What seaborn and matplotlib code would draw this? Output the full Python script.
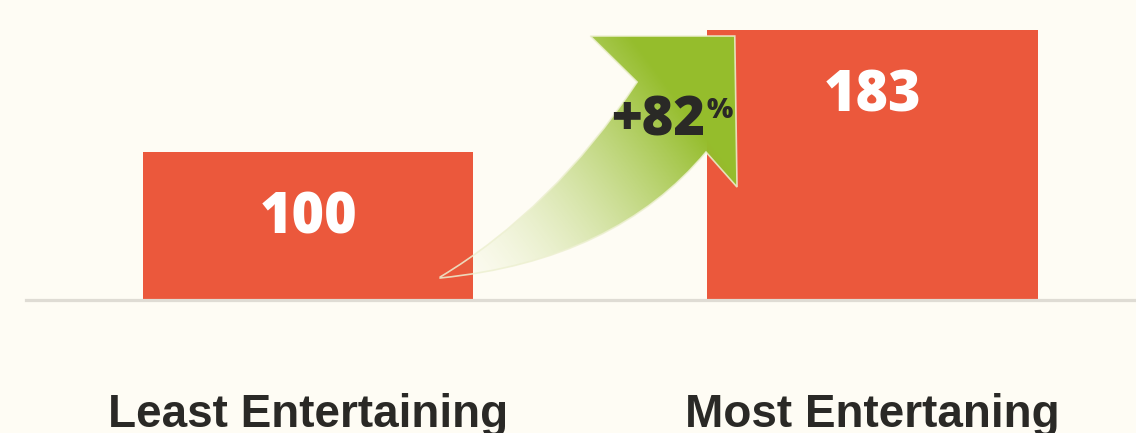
import numpy as np
import matplotlib
matplotlib.use("Agg")
import matplotlib.pyplot as plt
from matplotlib.path import Path
from matplotlib.patches import PathPatch
from matplotlib.transforms import blended_transform_factory
import seaborn as sns

# Index values for the two groups
categories = ["Least Entertaining", "Most Entertaning"]
values = [100, 183]
growth_label = "+82"
growth_unit = "%"

BG = "#FEFCF4"
BAR = "#EB583C"
GREEN = (0.588, 0.745, 0.176)
INK = "#2A2926"
RULE = "#DFDCD4"
NUM_FONT = ["Open Sans", "DejaVu Sans"]
LABEL_FONT = ["Liberation Sans", "DejaVu Sans"]

sns.set_theme(style="white")
plt.rcParams["font.family"] = NUM_FONT

fig = plt.figure(figsize=(11.36, 4.33), dpi=100, facecolor=BG)
ax = fig.add_axes([26 / 1136, 134.5 / 433, 1110 / 1136, 298.5 / 433])
ax.set_facecolor(BG)

sns.barplot(x=categories, y=values, order=categories, color=BAR,
            saturation=1, width=0.585, linewidth=0, ax=ax)
ax.set_xlim(-0.5, 1.467)
ax.set_ylim(0, 203.8)

# Value labels inside the bars
for i, v in enumerate(values):
    ax.text(i, v - 55.5, f"{v}", ha="center", va="baseline", color="white",
            fontsize=40, fontweight=800, family=NUM_FONT, zorder=5)

# Curved growth arrow from the first bar to the second
M, C3, L, CL = Path.MOVETO, Path.CURVE3, Path.LINETO, Path.CLOSEPOLY
verts = [(0.234, 14.7), (0.432, 60.4), (0.583, 147.8), (0.500, 179.2),
         (0.756, 179.2), (0.760, 76.1), (0.705, 100.0), (0.545, 26.0),
         (0.234, 14.0), (0.234, 14.7)]
codes = [M, C3, C3, L, L, L, L, C3, C3, CL]
arrow_path = Path(verts, codes)
patch = PathPatch(arrow_path, facecolor="none", edgecolor="none", zorder=3)
ax.add_patch(patch)

x0, x1, y0, y1 = 0.22, 0.77, 10, 182
nx, ny = 300, 300
gx, gy = np.meshgrid(np.linspace(x0, x1, nx), np.linspace(y0, y1, ny))
pts = ax.transData.transform(np.column_stack([gx.ravel(), gy.ravel()]))
start = ax.transData.transform((0.234, 14.5))
end = ax.transData.transform((0.655, 135.0))
d = end - start
proj = ((pts - start) @ d) / (d @ d)
alpha = np.clip(proj, 0, 1).reshape(ny, nx) ** 1.6
img = np.zeros((ny, nx, 4))
img[..., 0], img[..., 1], img[..., 2] = GREEN
img[..., 3] = alpha
im = ax.imshow(img, extent=[x0, x1, y0, y1], origin="lower", aspect="auto",
               interpolation="bilinear", zorder=3)
im.set_clip_path(patch)
ax.add_patch(PathPatch(arrow_path, facecolor="none",
                       edgecolor=(0.93, 0.94, 0.82, 0.85), lw=1.2, zorder=3.5))
ax.set_xlim(-0.5, 1.467)
ax.set_ylim(0, 203.8)

ax.text(0.703, 111.6, growth_label, ha="right", va="baseline", color=INK,
        fontsize=39, fontweight=800, family=NUM_FONT, zorder=5)
ax.text(0.706, 123.2, growth_unit, ha="left", va="baseline", color=INK,
        fontsize=20, fontweight=800, family=NUM_FONT, zorder=5)

# Category labels under the baseline
ax.set_xticks([0, 1], labels=["", ""])
ax.tick_params(axis="x", length=0)
label_tf = blended_transform_factory(ax.transData, fig.transFigure)
for i, name in enumerate(categories):
    ax.text(i, 6 / 433, name, transform=label_tf, ha="center", va="baseline",
            fontsize=33, fontweight="bold", family=LABEL_FONT, color=INK,
            clip_on=False)
ax.set_yticks([])
ax.set_xlabel("")
ax.set_ylabel("")

sns.despine(ax=ax, left=True)
ax.spines["bottom"].set_color(RULE)
ax.spines["bottom"].set_linewidth(2.3)
ax.spines["bottom"].set_position(("outward", 1.2))

fig.savefig("out.png", dpi=100, facecolor=BG)
